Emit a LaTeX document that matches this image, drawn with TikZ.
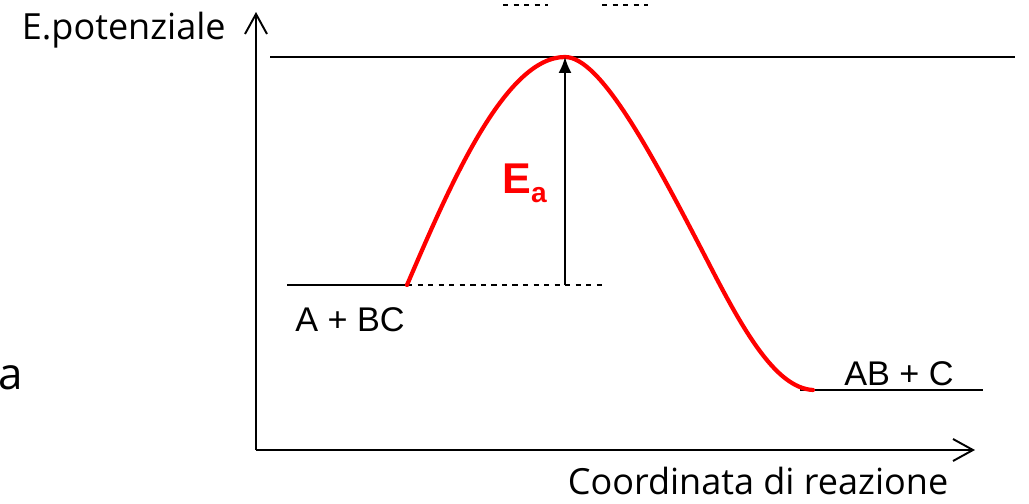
\documentclass[tikz,border=0pt]{standalone}
\usepackage{fontspec}
\setmainfont{Liberation Sans}
\newfontfamily\handfont{Open Sans}
\usetikzlibrary{arrows.meta,positioning}
\definecolor{curvecol}{RGB}{255,0,0}

\begin{document}
\begin{tikzpicture}[
    x=0.02cm, y=0.02cm,
    axis/.style={-{Straight Barb[length=4mm,width=4.4mm]}, line width=1.1pt},
    level/.style={line width=0.9pt},
    guide/.style={dashed, line width=0.7pt},
    hand/.style={font=\handfont\fontsize{20.5}{24}\selectfont, inner sep=0pt},
    species/.style={font=\fontsize{19.5}{22}\selectfont, inner sep=0pt},
]
\useasboundingbox (0,0) rectangle (1029,-504);

% axes
\coordinate (origin) at (256,-450);
\coordinate (ytop) at (256,-12);
\coordinate (xend) at (975,-450);
\draw[axis] (origin) -- (ytop);
\draw[axis] (origin) -- (xend);

% energy levels
\coordinate (topL) at (270,-57);
\coordinate (topR) at (1015,-57);
\coordinate (reacL) at (287,-285);
\coordinate (reacR) at (407,-285);
\coordinate (dashR) at (602,-285);
\coordinate (prodL) at (800,-390);
\coordinate (prodR) at (983,-390);
\coordinate (peak) at (565,-57);
\coordinate (foot) at (565,-285);
\draw[level] (topL) -- (topR);
\draw[level] (reacL) -- (reacR);
\draw[guide] (reacR) -- (dashR);
\draw[level] (prodL) -- (prodR);

% small dashes at the top
\coordinate (d1a) at (503,-5);
\coordinate (d1b) at (548,-5);
\coordinate (d2a) at (602,-5);
\coordinate (d2b) at (648,-5);
\draw[guide] (d1a) -- (d1b);
\draw[guide] (d2a) -- (d2b);

% reaction profile
\draw[curvecol, line width=2.4pt, line cap=round]
  (reacR) .. controls (450,-185) and (505,-57) .. (peak)
  .. controls (600,-57) and (650,-150) .. (707,-260)
  .. controls (742,-328) and (775,-388) .. (813,-390);

% activation energy
\draw[-{Latex[length=3.2mm,width=2.6mm]}, line width=1.1pt] (foot) -- (peak);
\node[text=curvecol, font=\bfseries\fontsize{24.5}{28}\selectfont, anchor=base west, inner sep=0pt] (ea) at (502,-193)
  {E\raisebox{-5.5pt}{\fontsize{16}{18}\selectfont a}};

% labels
\node[hand, anchor=east] (ylab) at (226,-30) {E.potenziale};
\node[hand] (xlab) at (758,-481) {Coordinata di reazione};
\node[hand, font=\handfont\fontsize{25}{28}\selectfont] (cut) at (11,-378) {a};
\node[species] (reac) at (350,-320) {A + BC};
\node[species] (prod) at (899,-374) {AB + C};
\end{tikzpicture}
\end{document}
